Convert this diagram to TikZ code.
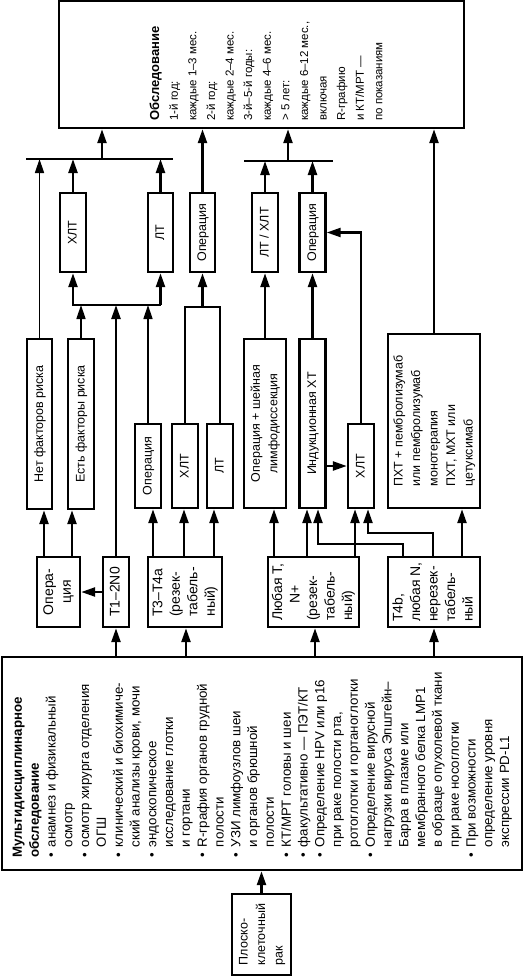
\documentclass[tikz,border=0pt]{standalone}
\usepackage{fontspec}
\setmainfont{Liberation Sans}
\usepackage{graphicx}
\usetikzlibrary{arrows.meta}

%vertical text block
\newcommand{\vtext}[2][l]{\rotatebox{90}{\begin{tabular}{@{}#1@{}}#2\end{tabular}}}
%header row of the bullet list
\newcommand{\hdrow}[1]{\multicolumn{2}{@{}l@{}}{\bfseries #1}}

\tikzset{
  blk/.style 2 args={draw, line width=2.4pt, minimum width=#1pt, minimum height=#2pt,
    inner sep=0pt, font=\fontsize{12.5}{17.5}\selectfont},
  stage/.style={font=\fontsize{14}{17.5}\selectfont},
  arr/.style={line width=2.4pt, -{Triangle[length=14pt,width=9pt]}},
  thinarr/.style={line width=1.5pt, -{Triangle[length=14pt,width=9pt]}},
  lnk/.style={line width=2.4pt},
  thinlnk/.style={line width=1.5pt},
  txt/.style={anchor=south west, inner sep=0pt}
}

\begin{document}
\begin{tikzpicture}[x=1pt, y=-1pt]
  \useasboundingbox (0,0) rectangle (529,977);

  %Follow-up
  \node [blk={405}{127}] (exam) at (261.5,64.5) {};
  \node [txt, font=\fontsize{11.5}{18.6}\selectfont] (examtxt) at (146,121) {\vtext{%
      {\fontsize{13}{18.6}\selectfont\bfseries Обследование}\\
      1-й год:\\каждые 1–3 мес.\\2-й год:\\каждые 2–4 мес.\\
      3-й–5-й годы:\\каждые 4–6 мес.\\> 5 лет:\\каждые 6–12 мес.,\\
      включая\\R-графию\\и КТ/МРТ —\\по показаниям}};

  %Treatment, upper row
  \node [blk={26}{79}] (xlt1)  at (73,232.5)    {\vtext{ХЛТ}};
  \node [blk={25}{79}] (lt1)   at (160.5,232.5) {\vtext{ЛТ}};
  \node [blk={25}{79}] (op3)   at (202.5,232.5) {\vtext{Операция}};
  \node [blk={26}{79}] (ltxlt) at (265,232.5)   {\vtext{ЛТ / ХЛТ}};
  \node [blk={26}{79}] (op5)   at (312.5,232.5) {\vtext{Операция}};

  %Treatment, lower row
  \node [blk={25}{170}] (net)    at (39.5,424)  {\vtext{Нет факторов риска}};
  \node [blk={26}{170}] (est)    at (81,424)    {\vtext{Есть факторы риска}};
  \node [blk={26}{84}]  (opS)    at (148,466)   {\vtext{Операция}};
  \node [blk={26}{84}]  (xltS)   at (185,466)   {\vtext{ХЛТ}};
  \node [blk={26}{84}]  (ltS)    at (220,466)   {\vtext{ЛТ}};
  \node [blk={42}{169}] (opneck) at (265,423.5) {\vtext[c]{Операция + шейная\\лимфодиссекция}};
  \node [blk={26}{169}] (induct) at (312.5,423.5) {\vtext{Индукционная ХТ}};
  \node [blk={26}{84}]  (xlt6)   at (361,466)   {\vtext{ХЛТ}};
  \node [blk={92}{174}] (pxt)    at (434,421)   {\vtext{ПХТ + пембролизумаб\\или пембролизумаб\\
      монотерапия\\ПХТ, МХТ или\\цетуксимаб}};

  %Stages
  \node [blk={43}{70}, stage] (opcia) at (58.5,592) {\vtext[c]{Опера-\\ция}};
  \node [blk={26}{70}, stage] (t12)   at (116,592)  {\vtext{T1–2N0}};
  \node [blk={74}{70}, stage] (t34)   at (185,592)  {\vtext{T3–T4a\\(резек-\\табель-\\ный)}};
  \node [blk={91}{70}, stage] (anyT)  at (313.5,592) {\vtext{Любая T,\\\hspace{1.2em}N+\\(резек-\\табель-\\ный)}};
  \node [blk={92}{70}, stage] (t4b)   at (434,592)  {\vtext{T4b,\\любая N,\\нерезек-\\табель-\\ный}};

  %Multidisciplinary examination
  \node [blk={520}{213}] (mdt) at (262,763.5) {};
  \node [txt, font=\fontsize{13.3}{16.8}\selectfont] (mdttxt) at (10,858) {\vtext[l@{\hspace{6pt}}l]{%
      \hdrow{Мультидисциплинарное}\\
      \hdrow{обследование}\\
      \textbullet & анамнез и физикальный\\
                  & осмотр\\
      \textbullet & осмотр хирурга отделения\\
                  & ОГШ\\
      \textbullet & клинический и биохимиче-\\
                  & ский анализы крови, мочи\\
      \textbullet & эндоскопическое\\
                  & исследование глотки\\
                  & и гортани\\
      \textbullet & R-графия органов грудной\\
                  & полости\\
      \textbullet & УЗИ лимфоузлов шеи\\
                  & и органов брюшной\\
                  & полости\\
      \textbullet & КТ/МРТ головы и шеи\\
      \textbullet & факультативно — ПЭТ/КТ\\
      \textbullet & Определение HPV или p16\\
                  & при раке полости рта,\\
                  & ротоглотки и гортаноглотки\\
      \textbullet & Определение вирусной\\
                  & нагрузки вируса Эпштейн–\\
                  & Барра в плазме или\\
                  & мембранного белка LMP1\\
                  & в образце опухолевой ткани\\
                  & при раке носоглотки\\
      \textbullet & При возможности\\
                  & определение уровня\\
                  & экспрессии PD-L1}};

  %Diagnosis
  \node [blk={59}{81}] (scc) at (261.5,934.5) {\vtext{Плоско-\\клеточный\\рак}};

  %Bars under the follow-up box
  \coordinate (bar1w) at (26,159);
  \coordinate (bar1e) at (173,159);
  \coordinate (bar1m) at (102,159);
  \coordinate (bar2w) at (244,161);
  \coordinate (bar2e) at (333,161);
  \coordinate (bar2m) at (288,161);
  \draw [thinlnk] (bar1w) -- (bar1e);
  \draw [thinlnk] (bar2w) -- (bar2e);
  \draw [arr] (bar1m) -- (bar1m |- exam.south);
  \draw [arr] (bar2m) -- (bar2m |- exam.south);
  \draw [arr] (op3.north) -- (op3.north |- exam.south);
  \draw [arr] (pxt.north) -- (pxt.north |- exam.south);
  \draw [thinarr] (net.north) -- (net.north |- bar1m);
  \draw [arr] (xlt1.north) -- (xlt1.north |- bar1m);
  \draw [arr] (lt1.north) -- (lt1.north |- bar1m);
  \draw [arr] (ltxlt.north) -- (ltxlt.north |- bar2m);
  \draw [arr] (op5.north) -- (op5.north |- bar2m);

  %Brackets between the two rows
  \coordinate (busA) at (0,305);
  \coordinate (busB) at (0,307);
  \draw [arr] (lt1.south |- busA) -- (xlt1.south |- busA) -- (xlt1.south);
  \draw [arr] (lt1.south |- busA) -- (lt1.south);
  \draw [thinarr] (est.north) -- (est.north |- busA);
  \draw [arr] (t12.north) -- (t12.north |- busA);
  \draw [thinarr] (opS.north) -- (opS.north |- busA);
  \draw [lnk] (xltS.north) -- (xltS.north |- busB) -- (ltS.north |- busB) -- (ltS.north);
  \draw [arr] (op3.south |- busB) -- (op3.south);
  \draw [arr] (opneck.north) -- (opneck.north |- ltxlt.south);
  \draw [arr] (induct.north) -- (induct.north |- op5.south);
  \draw [arr] (xlt6.north) |- (op5.east);
  \draw [arr] (induct.east |- xlt6.west) -- (xlt6.west);

  %Stages to treatment
  \draw [arr] (44,0 |- opcia.north) -- (44,0 |- net.south);
  \draw [arr] (72,0 |- opcia.north) -- (72,0 |- est.south);
  \draw [arr] (t12.west) -- (opcia.east);
  \draw [arr] (153,0 |- t34.north) -- (153,0 |- opS.south);
  \draw [arr] (184,0 |- t34.north) -- (184,0 |- xltS.south);
  \draw [arr] (214,0 |- t34.north) -- (214,0 |- ltS.south);
  \draw [arr] (274,0 |- anyT.north) -- (274,0 |- opneck.south);
  \draw [arr] (307,0 |- anyT.north) -- (307,0 |- induct.south);
  \draw [arr] (355,0 |- anyT.north) -- (355,0 |- xlt6.south);
  \coordinate (bendA) at (318,544);
  \coordinate (bendB) at (368,533);
  \draw [arr] (403,0 |- t4b.north) |- (bendA) -- (bendA |- induct.south);
  \draw [arr] (433,0 |- t4b.north) |- (bendB) -- (bendB |- xlt6.south);
  \draw [arr] (462,0 |- t4b.north) -- (462,0 |- pxt.south);

  %Examination to stages
  \foreach \xx/\nd in {116/t12, 186/t34, 315/anyT, 434/t4b}
    \draw [arr] (\xx,0 |- mdt.north) -- (\xx,0 |- \nd.south);
  \draw [arr] (scc.north) -- (scc.north |- mdt.south);

\end{tikzpicture}
\end{document}
